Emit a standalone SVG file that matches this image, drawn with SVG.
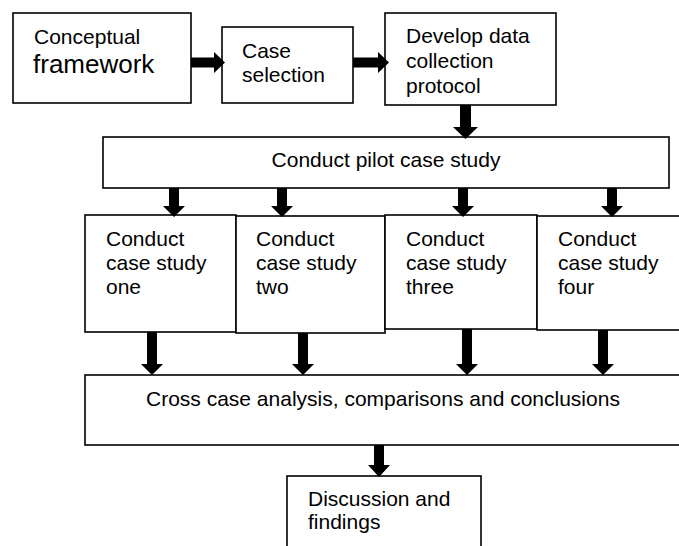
<svg xmlns="http://www.w3.org/2000/svg" width="679" height="546" viewBox="0 0 679 546">
<style>
.box{fill:#fff;stroke:#000;stroke-width:1.6}
.t{font-family:"Liberation Sans",Arial,sans-serif;font-size:21px;fill:#000}
.big{font-size:26px}
.arr{fill:#000}
</style>
<rect width="679" height="546" fill="#fff"/>
<g id="n-conceptual"><rect class="box" x="13" y="13" width="178" height="90"/>
<text class="t" x="34" y="44">Conceptual</text><text class="t big" x="33" y="73">framework</text></g>
<g id="n-case-selection"><rect class="box" x="222" y="27" width="131" height="76"/>
<text class="t" x="242" y="58">Case</text><text class="t" x="242" y="82">selection</text></g>
<g id="n-protocol"><rect class="box" x="385" y="13" width="171" height="92"/>
<text class="t" x="406" y="43">Develop data</text><text class="t" x="406" y="68">collection</text><text class="t" x="406" y="93">protocol</text></g>
<g id="n-pilot"><rect class="box" x="103" y="137" width="566" height="51"/>
<text class="t" x="386" y="167" text-anchor="middle">Conduct pilot case study</text></g>
<g id="n-one"><rect class="box" x="85" y="215" width="151" height="117"/>
<text class="t" x="106" y="246">Conduct</text><text class="t" x="106" y="270">case study</text><text class="t" x="106" y="294">one</text></g>
<g id="n-two"><rect class="box" x="236" y="216" width="149" height="117"/>
<text class="t" x="256" y="246">Conduct</text><text class="t" x="256" y="270">case study</text><text class="t" x="256" y="294">two</text></g>
<g id="n-three"><rect class="box" x="385" y="215" width="152" height="114"/>
<text class="t" x="406" y="246">Conduct</text><text class="t" x="406" y="270">case study</text><text class="t" x="406" y="294">three</text></g>
<g id="n-four"><rect class="box" x="537" y="216" width="153" height="114"/>
<text class="t" x="558" y="246">Conduct</text><text class="t" x="558" y="270">case study</text><text class="t" x="558" y="294">four</text></g>
<g id="n-cross"><rect class="box" x="85" y="375" width="605" height="70"/>
<text class="t" x="146" y="406">Cross case analysis, comparisons and conclusions</text></g>
<g id="n-discussion"><rect class="box" x="287" y="476" width="194" height="85"/>
<text class="t" x="308" y="506">Discussion and</text><text class="t" x="308" y="529">findings</text></g>
<g id="connectors">
<path class="arr" d="M191,57.5H214V52L225,62.5L214,73V67.5H191Z"/>
<path class="arr" d="M353,57.5H378V52L389,62.5L378,73V67.5H353Z"/>
<path class="arr" d="M460,105H471V127H478L465.5,139L453,127H460Z"/>
<path class="arr" d="M169,188H179V206H185L174,217L163,206H169Z"/>
<path class="arr" d="M277,188H287V206H293L282,217L271,206H277Z"/>
<path class="arr" d="M458,188H468V206H474L463,217L452,206H458Z"/>
<path class="arr" d="M607,188H617V206H623L612,217L601,206H607Z"/>
<path class="arr" d="M147,332H157V364H163L152,375L141,364H147Z"/>
<path class="arr" d="M298,333H308V364H314L303,375L292,364H298Z"/>
<path class="arr" d="M462,329H472V364H478L467,375L456,364H462Z"/>
<path class="arr" d="M598,330H608V364H614L603,375L592,364H598Z"/>
<path class="arr" d="M374,445H384V465H390L379,477L368,465H374Z"/>
</g>
</svg>
